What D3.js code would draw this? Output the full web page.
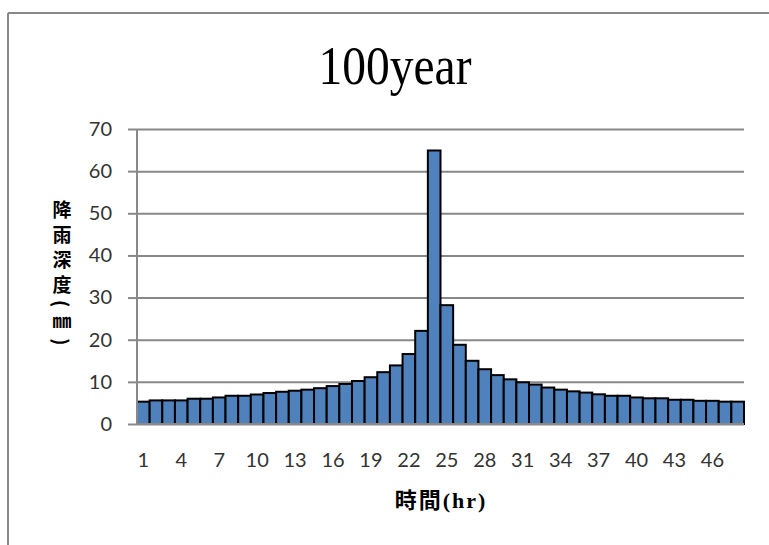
<!DOCTYPE html>
<html>
<head>
<meta charset="utf-8">
<script src="https://cdn.jsdelivr.net/npm/d3@7"></script>
<style>
  body { margin:0; background:#fff; }
  svg { display:block; }
</style>
</head>
<body>
<div id="chart"></div>
<script>
// data
var hours = d3.range(1, 49);
var depth = [5.3,5.6,5.6,5.6,6.0,6.0,6.3,6.7,6.7,7.0,7.35,7.65,7.9,8.15,8.5,9.0,
  9.5,10.2,11.1,12.3,13.9,16.6,22.1,64.9,28.2,18.8,15.0,13.0,11.6,10.6,9.9,9.35,
  8.65,8.15,7.75,7.45,7.05,6.7,6.7,6.3,6.1,6.1,5.75,5.75,5.5,5.5,5.3,5.3];
var yTicks = [0,10,20,30,40,50,60,70];
var xTicks = [1,4,7,10,13,16,19,22,25,28,31,34,37,40,43,46];

var W = 769, H = 545;
var plot = {left:137, right:744, top:129, bottom:424};
var gridColor = "#888888";
var labelFont = "Lato, 'Open Sans', sans-serif";

var svg = d3.select("#chart").append("svg")
  .attr("width", W)
  .attr("height", H);

// outer frame (top and left edges visible)
svg.append("line")
  .attr("x1", 8).attr("y1", 13).attr("x2", W).attr("y2", 13)
  .attr("stroke", gridColor).attr("stroke-width", 2);
svg.append("line")
  .attr("x1", 8).attr("y1", 13).attr("x2", 8).attr("y2", H)
  .attr("stroke", gridColor).attr("stroke-width", 2);

//scalers
var xscale = d3.scaleBand()
  .domain(hours)
  .range([plot.left, plot.right])
  .padding(0);
var yscale = d3.scaleLinear()
  .domain([0, 70])
  .range([plot.bottom, plot.top]);

// gridlines
var grid = svg.append("g")
  .attr("transform", "translate(" + plot.left + ",0)")
  .call(d3.axisLeft(yscale).tickValues(yTicks).tickSize(-(plot.right - plot.left)).tickFormat(""));
grid.select(".domain").remove();
grid.selectAll("line")
  .attr("stroke", gridColor)
  .attr("stroke-width", 2);

// bars
svg.append("g").selectAll("rect")
  .data(depth)
  .join("rect")
  .attr("x", function(d, i){ return xscale(hours[i]); })
  .attr("y", function(d){ return yscale(d); })
  .attr("width", xscale.bandwidth())
  .attr("height", function(d){ return yscale(0) - yscale(d); })
  .attr("fill", "#4f81bd")
  .attr("stroke", "#000")
  .attr("stroke-width", 2);

// y axis
var yaxis = svg.append("g")
  .attr("transform", "translate(" + plot.left + ",0)")
  .call(d3.axisLeft(yscale).tickValues(yTicks).tickSize(9).tickPadding(16));
yaxis.select(".domain")
  .attr("stroke", gridColor).attr("stroke-width", 2)
  .attr("d", "M0," + plot.top + "V" + plot.bottom);
yaxis.selectAll("line").attr("stroke", gridColor).attr("stroke-width", 2);
yaxis.selectAll("text")
  .attr("fill", "#333")
  .style("font-family", labelFont)
  .style("font-size", "20px");

// x axis
var xaxis = svg.append("g")
  .attr("transform", "translate(0," + plot.bottom + ")")
  .call(d3.axisBottom(xscale).tickValues(xTicks).tickSize(0).tickPadding(29));
xaxis.select(".domain")
  .attr("stroke", gridColor).attr("stroke-width", 2)
  .attr("d", "M" + plot.left + ",0H" + plot.right);
xaxis.selectAll("text")
  .attr("fill", "#333")
  .style("font-family", labelFont)
  .style("font-size", "20px");

// title, a bit narrow and tall like the original
svg.append("text")
  .attr("transform", "translate(395,84) scale(0.95,1.1)")
  .attr("text-anchor", "middle")
  .style("font-family", "'Liberation Serif', serif")
  .style("font-size", "50px")
  .text("100year");

// axis titles
svg.append("text")
  .attr("x", 441)
  .attr("y", 508)
  .attr("text-anchor", "middle")
  .style("font-family", "'Liberation Serif', 'Noto Sans CJK TC', serif")
  .style("font-weight", "bold")
  .style("font-size", "22px")
  .style("letter-spacing", "2px")
  .text("時間(hr)");

svg.append("text")
  .attr("x", 62)
  .attr("y", 200)
  .style("writing-mode", "vertical-rl")
  .style("font-family", "'Noto Sans CJK TC', sans-serif")
  .style("font-weight", "bold")
  .style("font-size", "19px")
  .style("letter-spacing", "6px")
  .text("降雨深度(㎜)");
</script>
</body>
</html>
